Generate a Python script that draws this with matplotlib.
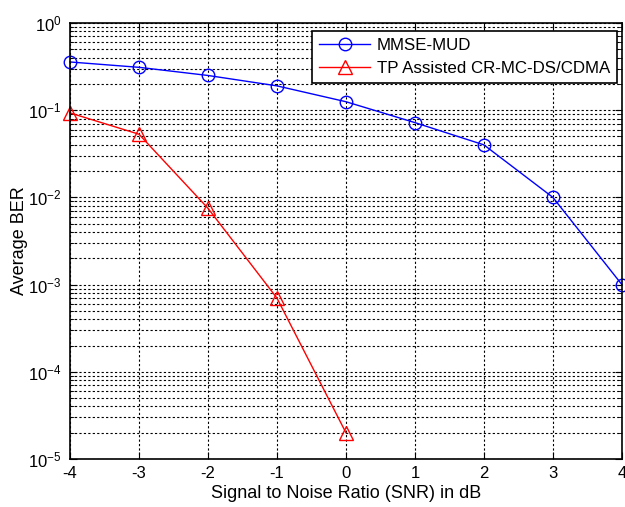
import matplotlib
matplotlib.use("Agg")
import matplotlib.pyplot as plt
from matplotlib.ticker import LogLocator, NullFormatter

plt.rcParams['font.family'] = ['Liberation Sans', 'DejaVu Sans']
plt.rcParams['mathtext.fontset'] = 'custom'
plt.rcParams['mathtext.rm'] = 'Liberation Sans'
plt.rcParams['mathtext.it'] = 'Liberation Sans:italic'
plt.rcParams['axes.unicode_minus'] = False

snr = [-4, -3, -2, -1, 0, 1, 2, 3, 4]
mmse = [0.357, 0.31, 0.25, 0.19, 0.125, 0.072, 0.04, 0.01, 0.001]
snr_tp = [-4, -3, -2, -1, 0]
tp = [0.093, 0.053, 0.0075, 0.0007, 2e-5]

fig = plt.figure(figsize=(6.25, 5.07), dpi=100)
ax = fig.add_axes([0.112, 0.0947, 0.883, 0.86])

ax.semilogy(snr, mmse, color='blue', marker='o', markersize=9, markerfacecolor='none',
            markeredgecolor='blue', linewidth=1, label='MMSE-MUD', clip_on=False)
ax.semilogy(snr_tp, tp, color='red', marker='^', markersize=10, markerfacecolor='none',
            markeredgecolor='red', linewidth=1, label='TP Assisted CR-MC-DS/CDMA', clip_on=False)

ax.set_xlim(-4, 4)
ax.set_ylim(1e-5, 1)
ax.set_xticks(snr)
ax.yaxis.set_major_locator(LogLocator(base=10, numticks=10))
ax.yaxis.set_minor_locator(LogLocator(base=10, subs=range(2, 10), numticks=100))
ax.yaxis.set_minor_formatter(NullFormatter())

ax.grid(True, which='major', color='black', linestyle=(0, (2, 2)), linewidth=0.8)
ax.grid(True, which='minor', axis='y', color='black', linestyle=(0, (2, 2)), linewidth=0.8)

ax.tick_params(which='both', direction='in', top=True, right=True, labelsize=12)
ax.tick_params(axis='x', pad=5)
ax.tick_params(axis='y', pad=6)
ax.tick_params(which='major', length=5)
ax.tick_params(which='minor', length=3)
for s in ax.spines.values():
    s.set_linewidth(1.2)

ax.set_xlabel('Signal to Noise Ratio (SNR) in dB', fontsize=13, labelpad=3)
ax.set_ylabel('Average BER', fontsize=13, labelpad=0)

leg = ax.legend(loc='upper right', bbox_to_anchor=(0.991, 0.982), borderaxespad=0,
                fontsize=12.2, fancybox=False, framealpha=1,
                edgecolor='black', handlelength=3.0, handletextpad=0.4, labelspacing=0.5)
leg.get_frame().set_linewidth(1.2)

fig.savefig('out.png', dpi=100)
